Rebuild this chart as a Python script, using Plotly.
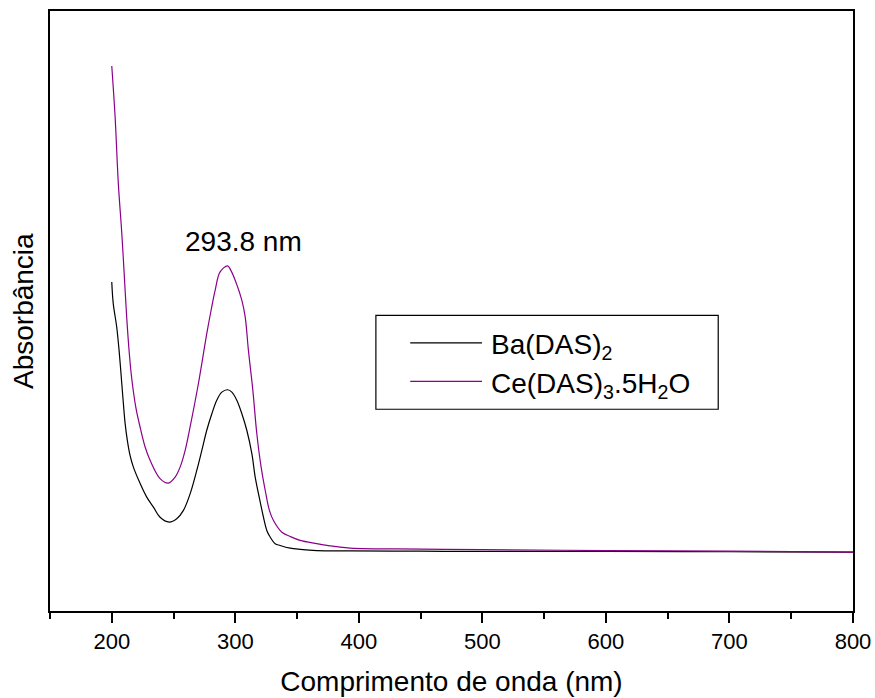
import plotly.graph_objects as go

# UV-Vis absorption spectra (wavelength in nm, absorbance in arbitrary units)
wl_ba = [200.0, 201.2, 204.0, 205.9, 208.1, 209.4, 210.8, 212.6, 214.8, 217.5,
         222.9, 228.3, 233.7, 239.1, 246.4, 252.6, 258.0, 263.4, 268.8, 272.9,
         276.9, 281.0, 285.0, 289.1, 293.8, 297.2, 301.2, 305.3, 309.3, 313.4,
         316.1, 319.6, 322.8, 325.5, 328.2, 332.3, 336.3, 344.4, 352.5, 366.0,
         393.0, 450.0, 500.0, 600.0, 700.0, 800.0]
abs_ba = [0.898, 0.826, 0.748, 0.671, 0.560, 0.493, 0.427, 0.370, 0.320, 0.281,
          0.227, 0.181, 0.148, 0.114, 0.098, 0.109, 0.137, 0.192, 0.270, 0.337,
          0.404, 0.459, 0.504, 0.531, 0.539, 0.531, 0.504, 0.459, 0.404, 0.326,
          0.248, 0.176, 0.114, 0.070, 0.048, 0.026, 0.020, 0.011, 0.007, 0.003,
          0.002, 0.001, 0.000, 0.000, -0.001, -0.002]

wl_ce = [200.0, 202.7, 205.3, 208.1, 209.9, 212.1, 214.2, 216.2, 219.7, 222.9,
         227.0, 231.0, 239.1, 245.8, 251.3, 255.3, 259.4, 263.4, 270.1, 276.9,
         280.4, 283.7, 287.7, 293.8, 296.4, 299.9, 305.3, 308.0, 310.6, 314.2,
         317.4, 320.9, 324.2, 327.6, 330.9, 337.7, 344.4, 352.5, 366.0, 374.1,
         393.0, 450.0, 500.0, 600.0, 700.0, 800.0]
abs_ce = [1.618, 1.449, 1.227, 1.061, 0.937, 0.780, 0.660, 0.575, 0.475, 0.415,
          0.348, 0.304, 0.243, 0.228, 0.248, 0.281, 0.337, 0.415, 0.559, 0.726,
          0.804, 0.871, 0.932, 0.952, 0.937, 0.904, 0.837, 0.782, 0.671, 0.537,
          0.393, 0.281, 0.204, 0.137, 0.103, 0.064, 0.050, 0.037, 0.026, 0.020,
          0.011, 0.008, 0.006, 0.003, 0.001, -0.002]

peak_nm = 293.8
series_names = ["Ba(DAS)<sub>2</sub>", "Ce(DAS)<sub>3</sub>.5H<sub>2</sub>O"]
series_colors = ["#000000", "#8B008B"]
x_ticks = [200, 300, 400, 500, 600, 700, 800]

FONT = "Liberation Sans, Arial, sans-serif"

fig = go.Figure()
for wl, ab, name, color in [(wl_ba, abs_ba, series_names[0], series_colors[0]),
                            (wl_ce, abs_ce, series_names[1], series_colors[1])]:
    fig.add_trace(go.Scatter(x=wl, y=ab, mode="lines", name=name,
                             line=dict(color=color, width=1.2, shape="spline", smoothing=1.0),
                             showlegend=False))

# peak label
fig.add_annotation(x=306.3, y=1.033, xref="x", yref="y", text=f"{peak_nm} nm",
                   showarrow=False, xanchor="center", yanchor="middle",
                   font=dict(family=FONT, size=28, color="black"))

# boxed key with line samples
fig.add_shape(type="rect", xref="x", yref="y", x0=413.8, x1=690.9, y0=0.474, y1=0.787,
              line=dict(color="black", width=1.2), fillcolor="white", layer="above")
for name, color, ky in zip(series_names, series_colors, [0.695, 0.567]):
    fig.add_shape(type="line", xref="x", yref="y", x0=441.6, x1=499.7, y0=ky, y1=ky,
                  line=dict(color=color, width=1.2), layer="above")
    fig.add_annotation(x=505.0, y=ky, xref="x", yref="y", text=name, showarrow=False,
                       xanchor="left", yanchor="middle", yshift=-4,
                       font=dict(family=FONT, size=28, color="black"))

# y-axis title placed just left of the frame
fig.add_annotation(x=0, y=0.5, xref="paper", yref="paper", text="Absorbância",
                   showarrow=False, textangle=-90, xanchor="center", yanchor="middle",
                   xshift=-27, font=dict(family=FONT, size=28, color="black"))

fig.update_xaxes(range=[150, 800], tickvals=x_ticks, ticktext=[str(v) for v in x_ticks],
                 ticks="outside", ticklen=10, tickwidth=1.5, tickcolor="black",
                 minor=dict(tickvals=[150, 250, 350, 450, 550, 650, 750], ticks="outside",
                            ticklen=6, tickwidth=1.5, tickcolor="black"),
                 showline=True, linewidth=2, linecolor="black", mirror=True,
                 showgrid=False, zeroline=False,
                 tickfont=dict(family=FONT, size=22, color="black"),
                 title=dict(text="Comprimento de onda (nm)", standoff=18,
                            font=dict(family=FONT, size=28, color="black")))
fig.update_yaxes(range=[-0.1985, 1.8015], showticklabels=False, ticks="",
                 showline=True, linewidth=2, linecolor="black", mirror=True,
                 showgrid=False, zeroline=False)

fig.update_layout(width=875, height=698, plot_bgcolor="white", paper_bgcolor="white",
                  margin=dict(l=50, r=22, t=11, b=87, autoexpand=False),
                  showlegend=False)

fig.write_html("out.html")
